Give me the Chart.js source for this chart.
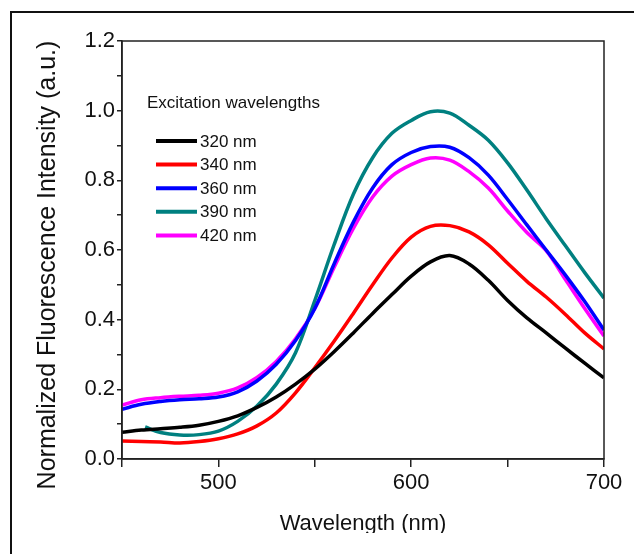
<!DOCTYPE html>
<html>
<head>
<meta charset="utf-8">
<script src="https://cdn.jsdelivr.net/npm/chart.js@4.4.0/dist/chart.umd.min.js"></script>
<style>
  html, body { margin: 0; padding: 0; background: #fff; overflow: hidden; }
  #frame { position: absolute; left: 10px; top: 11px; width: 700px; height: 700px; border: 2px solid #111; box-sizing: border-box; }
  #wrap { position: absolute; left: 0; top: 0; width: 634px; height: 533px; overflow: hidden; }
</style>
</head>
<body>
<div id="frame"></div>
<div id="wrap"><canvas id="chart" width="634" height="554"></canvas></div>
<script>
// Longitudes de onda (nm)
const wavelengths = [450, 460, 470, 480, 490, 500, 510, 520, 530, 540, 550, 560, 570, 580, 590, 600, 610, 620, 630, 640, 650, 660, 670, 680, 690, 700];
const wavelengths390 = [462, 470, 480, 490, 500, 510, 520, 530, 540, 550, 560, 570, 580, 590, 600, 610, 620, 630, 640, 650, 660, 670, 680, 690, 700];

// Intensidad normalizada por longitud de onda de excitación
const ex320 = [0.077, 0.083, 0.087, 0.091, 0.097, 0.108, 0.124, 0.148, 0.178, 0.215, 0.258, 0.308, 0.362, 0.418, 0.472, 0.525, 0.566, 0.584, 0.560, 0.513, 0.455, 0.405, 0.362, 0.318, 0.275, 0.233];
const ex340 = [0.052, 0.050, 0.049, 0.046, 0.050, 0.058, 0.072, 0.095, 0.132, 0.190, 0.262, 0.338, 0.418, 0.500, 0.577, 0.637, 0.668, 0.670, 0.652, 0.615, 0.562, 0.510, 0.465, 0.415, 0.362, 0.316];
const ex360 = [0.143, 0.157, 0.165, 0.170, 0.173, 0.178, 0.193, 0.224, 0.272, 0.340, 0.432, 0.560, 0.680, 0.778, 0.845, 0.880, 0.897, 0.895, 0.865, 0.815, 0.745, 0.672, 0.600, 0.528, 0.452, 0.370];
const ex390 = [0.092, 0.076, 0.069, 0.070, 0.080, 0.108, 0.152, 0.215, 0.305, 0.455, 0.615, 0.760, 0.865, 0.935, 0.972, 0.997, 0.993, 0.958, 0.915, 0.850, 0.772, 0.690, 0.612, 0.535, 0.462];
const ex420 = [0.155, 0.170, 0.176, 0.180, 0.183, 0.189, 0.204, 0.234, 0.280, 0.345, 0.432, 0.550, 0.662, 0.752, 0.812, 0.845, 0.864, 0.858, 0.825, 0.778, 0.712, 0.650, 0.598, 0.515, 0.432, 0.353];

const seriesLabels = ['320 nm', '340 nm', '360 nm', '390 nm', '420 nm'];
const seriesColors = ['#000000', '#ff0000', '#0000ff', '#008080', '#ff00ff'];
const legendTitle = 'Excitation wavelengths';
const yTitle = 'Normalized Fluorescence Intensity (a.u.)';

const FONT = "'Liberation Sans', Arial, sans-serif";

function toPoints(xs, ys) {
    return xs.map((x, i) => ({ x: x, y: ys[i] }));
}

function makeDataset(i, xs, ys) {
    return {
        label: seriesLabels[i],
        data: toPoints(xs, ys),
        borderColor: seriesColors[i],
        backgroundColor: seriesColors[i],
        borderWidth: 3.5,
        pointRadius: 0,
        tension: 0.35,
        fill: false
    };
}

// Leyenda dibujada dentro del área del gráfico
const insideLegend = {
    id: 'insideLegend',
    afterDatasetsDraw(chart) {
        const ctx = chart.ctx;
        ctx.save();
        ctx.textBaseline = 'middle';
        ctx.textAlign = 'left';
        ctx.fillStyle = '#111';
        ctx.font = '17px ' + FONT;
        ctx.fillText(legendTitle, 147, 103);
        chart.data.datasets.forEach((ds, i) => {
            const y = 141 + i * 23.6;
            ctx.strokeStyle = ds.borderColor;
            ctx.lineWidth = 4;
            ctx.beginPath();
            ctx.moveTo(156, y);
            ctx.lineTo(197, y);
            ctx.stroke();
            ctx.fillStyle = '#111';
            ctx.fillText(ds.label, 200, y + 1);
        });
        ctx.restore();
    }
};

// Marco completo y título del eje Y
const plotBox = {
    id: 'plotBox',
    afterDraw(chart) {
        const a = chart.chartArea;
        const ctx = chart.ctx;
        ctx.save();
        ctx.strokeStyle = '#222';
        ctx.lineWidth = 1.5;
        ctx.strokeRect(a.left, a.top, a.right - a.left, a.bottom - a.top);
        ctx.translate(48, 265);
        ctx.rotate(-Math.PI / 2);
        ctx.fillStyle = '#111';
        ctx.font = '25px ' + FONT;
        ctx.textAlign = 'center';
        ctx.textBaseline = 'middle';
        ctx.fillText(yTitle, 0, 0);
        ctx.restore();
    }
};

const ctx = document.getElementById('chart');
ctx.chart = new Chart(ctx, {
    type: 'line',
    data: {
        datasets: [
            makeDataset(0, wavelengths, ex320),
            makeDataset(1, wavelengths, ex340),
            makeDataset(2, wavelengths, ex360),
            makeDataset(3, wavelengths390, ex390),
            makeDataset(4, wavelengths, ex420)
        ]
    },
    options: {
        responsive: false,
        animation: false,
        layout: {
            padding: { left: 0, top: 41, right: 30, bottom: 17 }
        },
        scales: {
            x: {
                type: 'linear',
                min: 450,
                max: 700,
                afterFit: function(scale) { scale.height = 78; },
                grid: {
                    display: true,
                    drawOnChartArea: false,
                    tickLength: 8,
                    color: '#222',
                    lineWidth: 1.5
                },
                border: { display: true, color: '#222', width: 1.5 },
                ticks: {
                    stepSize: 50,
                    autoSkip: false,
                    maxRotation: 0,
                    padding: 3,
                    color: '#111',
                    font: { family: FONT, size: 22 },
                    callback: function(value) {
                        return value % 100 === 0 ? String(value) : '';
                    }
                },
                title: {
                    display: true,
                    text: 'Wavelength (nm)',
                    color: '#111',
                    padding: 0,
                    font: { family: FONT, size: 22 }
                }
            },
            y: {
                min: 0,
                max: 1.2,
                afterFit: function(scale) { scale.width = 122; },
                grid: {
                    display: true,
                    drawOnChartArea: false,
                    tickLength: 5,
                    color: '#222',
                    lineWidth: 1.5
                },
                border: { display: true, color: '#222', width: 1.5 },
                ticks: {
                    stepSize: 0.1,
                    autoSkip: false,
                    padding: 2,
                    color: '#111',
                    font: { family: FONT, size: 22 },
                    callback: function(value) {
                        const k = Math.round(value * 10);
                        return k % 2 === 0 ? (k / 10).toFixed(1) : '';
                    }
                }
            }
        },
        plugins: {
            legend: { display: false },
            tooltip: { enabled: false }
        }
    },
    plugins: [insideLegend, plotBox]
});
</script>
</body>
</html>
